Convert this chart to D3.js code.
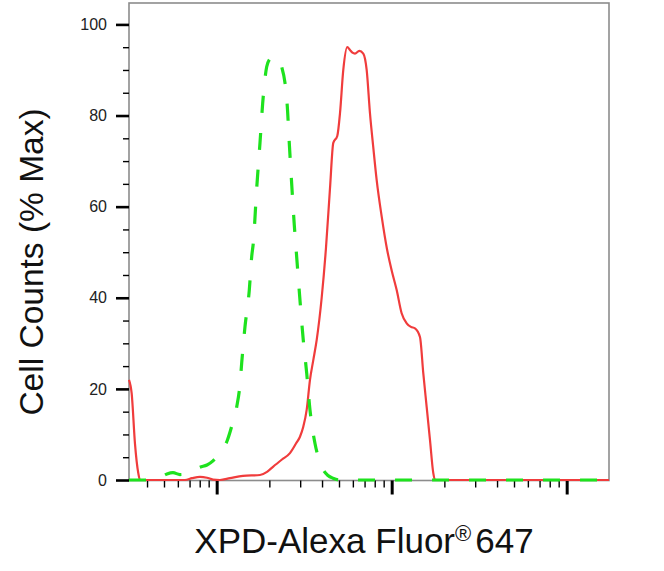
<!DOCTYPE html>
<html>
<head>
<meta charset="utf-8">
<script src="https://cdn.jsdelivr.net/npm/d3@7"></script>
<style>
	body { margin: 0; background: #fff; }
	svg { display: block; }
	text { font-family: 'Liberation Sans', Arial, sans-serif; }
</style>
</head>
<body>
<svg id="chart" width="664" height="571"></svg>
<script>
// control (isotype) histogram, dashed green
const ctrlX = [3.155, 4.157, 4.742, 5.2, 5.628, 6.17, 7.038, 8.03, 8.805, 9.526, 10.44, 11.45, 12.23, 13.01, 13.59, 13.9, 14.51, 15.36, 15.85, 16.19, 16.93, 17.68, 18.32, 19.31, 20.17, 20.98, 22.12, 23.52, 25.32, 25.99, 26.83, 27.76, 28.65, 29.92, 31.25, 32.68, 34.13, 36.46, 38.43, 40.66, 43.25, 46.2, 50.66, 1745];
const ctrlY = [0, 0, 0.5, 1.3, 1.6, 1.2, 1.6, 2.8, 3.3, 4.2, 6, 8.5, 12, 16, 21, 25.7, 33.6, 41.7, 49, 52, 64, 74, 82.7, 90.7, 92.5, 93, 92.5, 90.7, 82, 74, 65, 56, 49, 39.5, 30.7, 23.5, 15.4, 8, 4.5, 2.2, 1, 0.4, 0, 0];

// XPD stained sample, solid red
const sampleX = [3.155, 3.268, 3.413, 3.565, 3.646, 6.589, 7.225, 8.03, 8.805, 9.526, 10.44, 11.91, 14.13, 17.68, 19.39, 20.98, 23.61, 26.23, 28.39, 29.92, 31.25, 32.68, 34.13, 35.65, 37.27, 39.81, 42.14, 44.41, 46.38, 48.88, 50.66, 52.9, 55.76, 57.77, 59.7, 61.7, 65.3, 68.82, 71.96, 75.16, 78.5, 82.09, 87.7, 94, 100, 106.8, 114, 121.8, 128.9, 135.9, 145.1, 151.6, 158.5, 165.5, 172.9, 176.8, 1745];
const sampleY = [22, 19, 8, 1.5, 0, 0, 0.4, 0.7, 0.5, 0.1, 0, 0.4, 0.9, 1.1, 1.8, 2.9, 4.5, 5.9, 8, 9.5, 11.7, 15.4, 22, 26.3, 30.7, 40, 51, 64, 74, 75.5, 80.5, 90, 95, 94.4, 93.8, 93.6, 94.2, 93.6, 90, 80.5, 73, 65.8, 57.8, 50.7, 46, 41.7, 36.6, 34.4, 33.6, 33.3, 31.4, 23.4, 16, 8.8, 1.5, 0, 0];

const yMajor = [0, 20, 40, 60, 80, 100];
const yMinor = [5, 10, 15, 25, 30, 35, 45, 50, 55, 65, 70, 75, 85, 90, 95];
const xMajor = [10, 100, 1000];
const xMinor = [4, 5, 6, 7, 8, 9, 20, 30, 40, 50, 60, 70, 80, 90, 200, 300, 400, 500, 600, 700, 800, 900];

const xTitle = 'XPD-Alexa Fluor';
const xTitleSup = '\u00AE';
const xTitleEnd = '647';
const yTitle = 'Cell Counts (% Max)';

let mLeft = 129, mRight = 609, mTop = 3, mBottom = 480;

let svg = d3.select('#chart');
let x = d3.scaleLog().domain([3.155, 1745]).range([mLeft, mRight]);
let y = d3.scaleLinear().domain([0, 104.7]).range([mBottom, mTop]);

// frame
svg.append('rect')
	.attr('x', mLeft).attr('y', mTop)
	.attr('width', mRight - mLeft).attr('height', mBottom - mTop + 0.5)
	.style('fill', 'none')
	.style('stroke', '#8c8c8c')
	.style('stroke-width', '1.6px');

// y ticks
let yAxisMaj = svg.append('g').attr('transform', 'translate(' + mLeft + ',0)')
	.call(d3.axisLeft(y).tickValues(yMajor).tickSize(13).tickPadding(9).tickFormat(d3.format('d')));
yAxisMaj.select('.domain').remove();
yAxisMaj.selectAll('line').style('stroke', '#000').style('stroke-width', '2.6px');
yAxisMaj.selectAll('text').style('font-size', '16px').style('fill', '#222');

let yAxisMin = svg.append('g').attr('transform', 'translate(' + mLeft + ',0)')
	.call(d3.axisLeft(y).tickValues(yMinor).tickSize(6).tickFormat(''));
yAxisMin.select('.domain').remove();
yAxisMin.selectAll('line').style('stroke', '#000').style('stroke-width', '1.4px');

// x ticks, no labels
let xAxisMaj = svg.append('g').attr('transform', 'translate(0,' + (mBottom + 0.5) + ')')
	.call(d3.axisBottom(x).tickValues(xMajor).tickSize(14).tickFormat(''));
xAxisMaj.select('.domain').remove();
xAxisMaj.selectAll('line').style('stroke', '#000').style('stroke-width', '3px');

let xAxisMin = svg.append('g').attr('transform', 'translate(0,' + (mBottom + 0.5) + ')')
	.call(d3.axisBottom(x).tickValues(xMinor).tickSize(7).tickFormat(''));
xAxisMin.select('.domain').remove();
xAxisMin.selectAll('line').style('stroke', '#000').style('stroke-width', '1.4px');

// histograms
let lineFn = d3.line().x(d => x(d[0])).y(d => y(d[1])).curve(d3.curveMonotoneX);

svg.append('path')
	.attr('d', lineFn(d3.zip(sampleX, sampleY)))
	.style('fill', 'none')
	.style('stroke', '#f03c3c')
	.style('stroke-width', '2.2px');

svg.append('path')
	.attr('d', lineFn(d3.zip(ctrlX, ctrlY)))
	.style('fill', 'none')
	.style('stroke', '#1ee21e')
	.style('stroke-width', '3.2px')
	.style('stroke-dasharray', '17,20');

// axis titles
let xt = svg.append('text')
	.attr('x', 364).attr('y', 553)
	.attr('text-anchor', 'middle')
	.style('font-size', '35px')
	.style('fill', '#111');
xt.append('tspan').text(xTitle);
xt.append('tspan').attr('dy', -12).style('font-size', '22px').text(xTitleSup);
xt.append('tspan').attr('dy', 12).attr('dx', 4).text(xTitleEnd);

svg.append('text')
	.attr('transform', 'translate(43,262) rotate(-90)')
	.attr('text-anchor', 'middle')
	.style('font-size', '33.5px')
	.style('fill', '#111')
	.text(yTitle);
</script>
</body>
</html>
